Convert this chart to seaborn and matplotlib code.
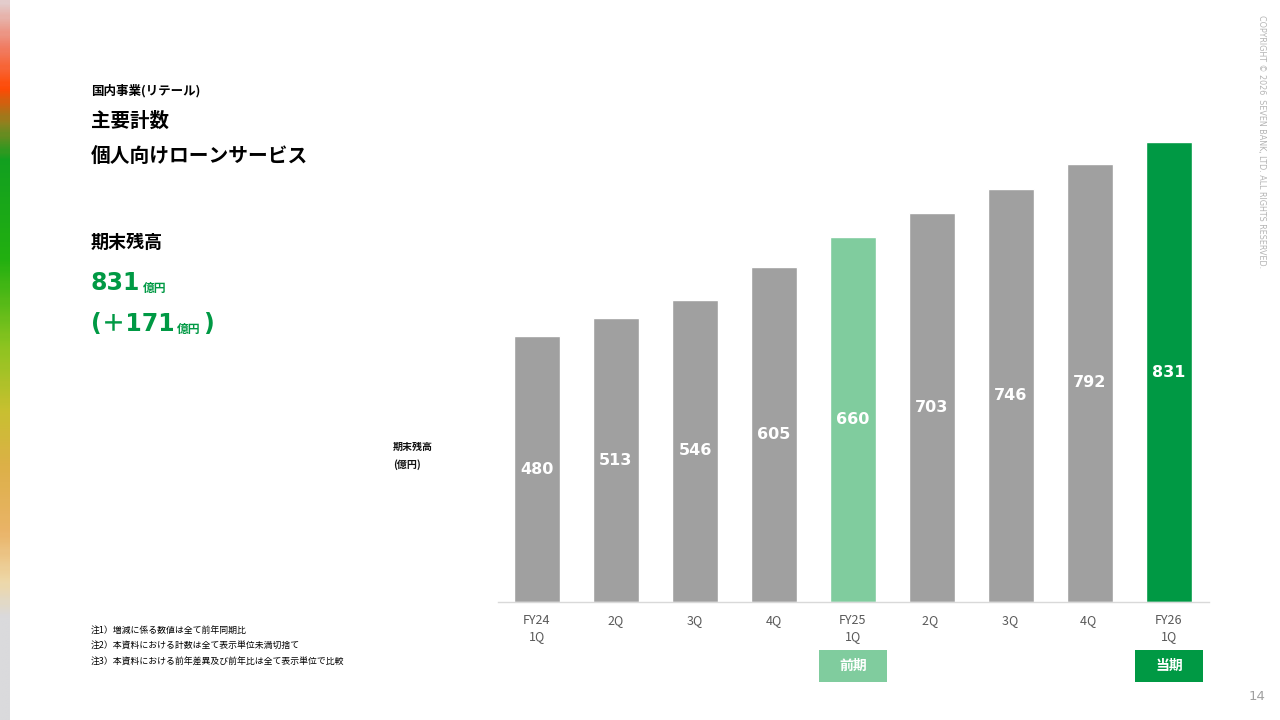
import matplotlib
matplotlib.use("Agg")
import matplotlib.pyplot as plt
from matplotlib.patches import Rectangle
from matplotlib.colors import LinearSegmentedColormap
import numpy as np
import pandas as pd
import seaborn as sns

# ---- data ----
quarters = ["FY24\n1Q", "2Q", "3Q", "4Q", "FY25\n1Q", "2Q ", "3Q ", "4Q ", "FY26\n1Q"]
balances = [480, 513, 546, 605, 660, 703, 746, 792, 831]
bar_colors = ["#A0A0A0", "#A0A0A0", "#A0A0A0", "#A0A0A0", "#80CC9E",
              "#A0A0A0", "#A0A0A0", "#A0A0A0", "#009944"]
period_tags = ["前期", "当期"]
period_tag_idx = [4, 8]
period_tag_colors = ["#80CC9E", "#009944"]
notes = ["注1）増減に係る数値は全て前年同期比",
         "注2）本資料における計数は全て表示単位未満切捨て",
         "注3）本資料における前年差異及び前年比は全て表示単位で比較"]

sns.set_theme(style="white")
plt.rcParams['font.family'] = ['Noto Sans CJK JP', 'DejaVu Sans']

W, H = 1280, 720
fig = plt.figure(figsize=(12.8, 7.2), dpi=100)
fig.patch.set_facecolor("white")

def fx(x):
    return x / W

def fy(y):
    return 1 - y / H

# ---- left gradient stripe (decoration) ----
sax = fig.add_axes([0, 0, 10 / W, 1])
grad_cmap = LinearSegmentedColormap.from_list("edge", [
    (0.00, "#E3CCCC"), (0.06, "#F08068"), (0.12, "#FF4A05"), (0.17, "#8A8420"),
    (0.22, "#12A020"), (0.36, "#22B010"), (0.48, "#8CC420"), (0.57, "#C8C030"),
    (0.65, "#DDB048"), (0.74, "#EAB468"), (0.81, "#EED8A8"), (0.86, "#DADADC"),
    (1.00, "#DADADC")])
sax.imshow(np.linspace(0, 1, 300).reshape(-1, 1), aspect="auto", cmap=grad_cmap,
           extent=[0, 1, 0, 1], origin="upper")
sax.set_axis_off()

# ---- bar chart ----
ax = fig.add_axes([fx(497.5), fy(602), fx(1208.5) - fx(497.5), (602 - 105) / H])
df = pd.DataFrame({"q": quarters, "v": balances})
sns.barplot(data=df, x="q", y="v", hue="q", palette=bar_colors, legend=False,
            width=0.58, saturation=1, ax=ax, order=quarters, hue_order=quarters)
ax.set_xlim(-0.5, len(quarters) - 0.5)
ax.set_ylim(0, 898)
ax.set_xlabel("")
ax.set_ylabel("")
ax.set_yticks([])
for s in ["top", "right", "left"]:
    ax.spines[s].set_visible(False)
ax.spines["bottom"].set_color("#D9D9D9")
ax.spines["bottom"].set_linewidth(1.0)
ax.tick_params(axis="x", length=0, pad=9, labelsize=9, labelcolor="#595959")
for lbl in ax.get_xticklabels():
    lbl.set_linespacing(1.3)

for i, v in enumerate(balances):
    ax.text(i, v / 2, f"{v}", ha="center", va="center", color="white",
            fontsize=11.5, fontweight="bold", family="DejaVu Sans")

# period tags below axis
for idx, tag, col in zip(period_tag_idx, period_tags, period_tag_colors):
    cx = 537 + idx * 79
    fig.patches.append(Rectangle((fx(cx - 34), fy(682)), 68 / W, 32 / H,
                                 transform=fig.transFigure, facecolor=col,
                                 edgecolor="none", zorder=1))
    fig.text(fx(cx), fy(666), tag, ha="center", va="center", color="white",
             fontsize=10, fontweight="bold")

# y-axis caption
fig.text(fx(393), fy(447), "期末残高", ha="left", va="center", fontsize=7.2,
         fontweight="bold", color="#111111")
fig.text(fx(393), fy(465), "(億円)", ha="left", va="center", fontsize=7.2,
         fontweight="bold", color="#111111")

# ---- left header texts ----
fig.text(fx(91), fy(91), "国内事業(リテール)", ha="left", va="center",
         fontsize=9, fontweight="bold", color="black")
fig.text(fx(91), fy(121), "主要計数", ha="left", va="center",
         fontsize=14, fontweight="bold", color="black")
fig.text(fx(91), fy(157), "個人向けローンサービス", ha="left", va="center",
         fontsize=14.2, fontweight="bold", color="black")
fig.text(fx(91), fy(242), "期末残高", ha="left", va="center",
         fontsize=13, fontweight="bold", color="black")

green = "#009944"
t1 = fig.text(fx(91), fy(290), "831", ha="left", va="baseline",
              fontsize=17, fontweight="bold", color=green, family="DejaVu Sans")
plt.annotate("億円", xy=(1, 0), xycoords=t1, xytext=(1.5, 0),
             textcoords="offset points", ha="left", va="bottom",
             fontsize=8.5, fontweight="bold", color=green,
             annotation_clip=False)
t2 = fig.text(fx(91), fy(331), "(＋171", ha="left", va="baseline",
              fontsize=17, fontweight="bold", color=green,
              family=["DejaVu Sans", "Noto Sans CJK JP"])
ann2 = plt.annotate("億円", xy=(1, 0), xycoords=t2, xytext=(1.5, 0),
                    textcoords="offset points", ha="left", va="bottom",
                    fontsize=8.5, fontweight="bold", color=green,
                    annotation_clip=False)
plt.annotate(")", xy=(1, 0), xycoords=ann2, xytext=(2, 0),
             textcoords="offset points", ha="left", va="bottom",
             fontsize=17, fontweight="bold", color=green,
             family="DejaVu Sans", annotation_clip=False)

# notes
for k, n in enumerate(notes):
    fig.text(fx(91), fy(631 + k * 15.5), n, ha="left", va="center",
             fontsize=6.4, color="black")

# copyright & page number
fig.text(fx(1262), fy(15), "COPYRIGHT © 2026  SEVEN BANK, LTD. ALL RIGHTS RESERVED.",
         rotation=270, ha="center", va="top", fontsize=5.8, color="#B4B4B4",
         family="DejaVu Sans")
fig.text(fx(1257), fy(697), "14", ha="center", va="center", fontsize=9.5,
         color="#A0A0A0", family="DejaVu Sans")

fig.savefig("out.png", dpi=100, facecolor="white")
